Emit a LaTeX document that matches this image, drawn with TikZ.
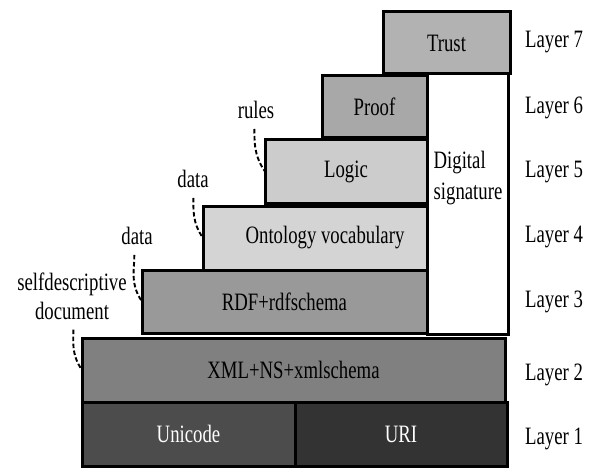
\documentclass[tikz,border=0pt]{standalone}
\usepackage{fontspec}
\setmainfont[FakeStretch=0.75]{Liberation Serif}
\usepackage{tikz}
\usetikzlibrary{calc}

\definecolor{trustgray}{gray}{0.70}
\definecolor{proofgray}{gray}{0.66}
\definecolor{logicgray}{gray}{0.80}
\definecolor{ontogray}{gray}{0.83}
\definecolor{rdfgray}{gray}{0.60}
\definecolor{xmlgray}{gray}{0.50}
\definecolor{unigray}{gray}{0.30}
\definecolor{urigray}{gray}{0.20}

\tikzset{
  layerbox/.style={draw=black, line width=3pt, inner sep=0pt, outer sep=0pt},
  sidelabel/.style={inner sep=1pt},
  hint/.style={inner sep=1pt},
  hintline/.style={line width=1.9pt, dash pattern=on 4.5pt off 2.5pt, shorten <=9pt}
}

\begin{document}
\begin{tikzpicture}[x=1pt, y=-1pt]
        \fontsize{25}{28}\selectfont
        \useasboundingbox (0,0) rectangle (589,468);
        \pgfmathsetmacro{\xr}{427}
        \pgfmathsetmacro{\xl}{554}
        % signature column
        \draw[layerbox, fill=white] (\xr,74) rectangle (508,334);
        \node[align=left, inner sep=0pt] (sig) at (468,178)
             {Digital\\[3pt]signature};
        % stack of layers
        \node[layerbox, fill=trustgray, minimum width=127, minimum height=62]
             (trust) at (446.5,43) {Trust};
        \node[layerbox, fill=proofgray, minimum width=105, minimum height=62]
             (proof) at (374.5,107) {Proof};
        \node[layerbox, fill=logicgray, minimum width=162, minimum height=63]
             (logic) at (346,171.5) {Logic};
        \node[layerbox, fill=ontogray, minimum width=224, minimum height=64]
             (onto) at (315,238) {\hspace*{20pt}Ontology vocabulary};
        \node[layerbox, fill=rdfgray, minimum width=285, minimum height=63]
             (rdf) at (284.5,301.5) {RDF+rdfschema};
        \node[layerbox, fill=xmlgray, minimum width=423, minimum height=64]
             (xml) at (293.5,370) {XML+NS+xmlschema};
        \node[layerbox, fill=unigray, text=white, minimum width=213, minimum height=64]
             (uni) at (188.5,434) {Unicode};
        \node[layerbox, fill=urigray, text=white, minimum width=212, minimum height=64]
             (uri) at (401,434) {URI};
        % layer names
        \node[sidelabel] (l7) at (\xl,42) {Layer 7};
        \node[sidelabel] (l6) at (\xl,108) {Layer 6};
        \node[sidelabel] (l5) at (\xl,172) {Layer 5};
        \node[sidelabel] (l4) at (\xl,237) {Layer 4};
        \node[sidelabel] (l3) at (\xl,302) {Layer 3};
        \node[sidelabel] (l2) at (\xl,375) {Layer 2};
        \node[sidelabel] (l1) at (\xl,439) {Layer 1};
        % hints on the left
        \node[hint] (rules) at (256,110) {rules};
        \node[hint] (data1) at (193,179) {data};
        \node[hint] (data2) at (137,236) {data};
        \node[hint, align=center] (selfdoc) at (72,296)
             {selfdescriptive\\[1pt]document};
        \draw[hintline] (rules.south) ++(-2,0) to[out=-88, in=125] (logic.west);
        \draw[hintline] (data1.south) to[out=-88, in=125] (onto.west);
        \draw[hintline] (data2.south) ++(-3,0) to[out=-88, in=125] (rdf.west);
        \draw[hintline] (selfdoc.south) ++(1,0) to[out=-88, in=125] (xml.west);
    \end{tikzpicture}
\end{document}
